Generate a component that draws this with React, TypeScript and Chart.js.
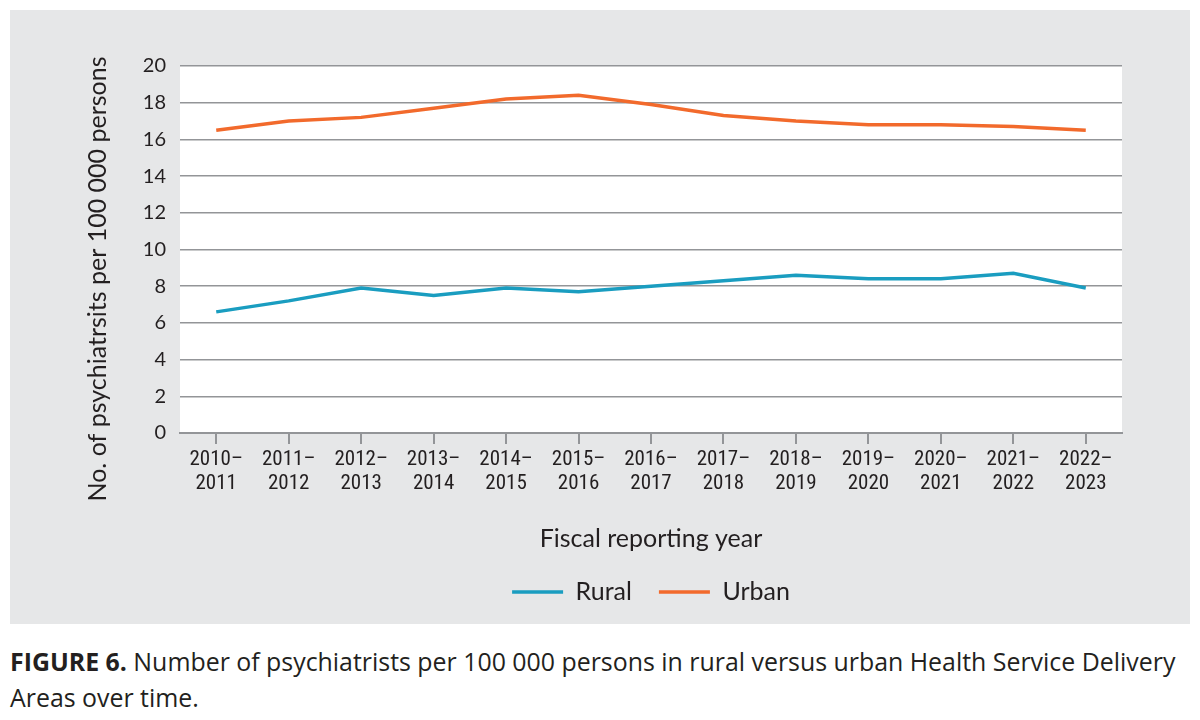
import React, { useEffect, useRef } from 'react';
import { Chart, registerables } from 'chart.js';

Chart.register(...registerables);

const CATEGORIES: string[][] = [
  ['2010–', '2011'],
  ['2011–', '2012'],
  ['2012–', '2013'],
  ['2013–', '2014'],
  ['2014–', '2015'],
  ['2015–', '2016'],
  ['2016–', '2017'],
  ['2017–', '2018'],
  ['2018–', '2019'],
  ['2019–', '2020'],
  ['2020–', '2021'],
  ['2021–', '2022'],
  ['2022–', '2023'],
];

const RURAL = [6.6, 7.2, 7.9, 7.5, 7.9, 7.7, 8.0, 8.3, 8.6, 8.4, 8.4, 8.7, 7.9];
const URBAN = [16.5, 17.0, 17.2, 17.7, 18.2, 18.4, 17.9, 17.3, 17.0, 16.8, 16.8, 16.7, 16.5];

const Y_MIN = 0;
const Y_MAX = 20;
const Y_STEP = 2;

const Y_TITLE = 'No. of psychiatrsits per 100 000 persons';
const X_TITLE = 'Fiscal reporting year';
const SERIES_NAMES = ['Rural', 'Urban'];

const RURAL_COLOR = '#1a9dc0';
const URBAN_COLOR = '#f26a2c';
const GRID_COLOR = '#939598';
const TEXT_COLOR = '#231f20';
const PANEL_BG = '#e6e7e8';

const FONT = 'Lato, "Noto Sans", sans-serif';
const NARROW = '"Liberation Sans Narrow", "Roboto Condensed", Roboto, sans-serif';
const CAPTION_FONT = '"Open Sans", "Noto Sans", sans-serif';

const bgPlugin = {
  id: 'plotBg',
  beforeDraw(chart: any) {
    const { ctx, chartArea } = chart;
    ctx.save();
    ctx.fillStyle = '#ffffff';
    ctx.fillRect(chartArea.left, chartArea.top, chartArea.right - chartArea.left, chartArea.bottom - chartArea.top);
    ctx.restore();
  },
};

const yTitlePlugin = {
  id: 'yTitleCustom',
  afterDraw(chart: any) {
    const { ctx, chartArea } = chart;
    ctx.save();
    ctx.translate(chartArea.left - 74, (chartArea.top + chartArea.bottom) / 2 + 29.5);
    ctx.rotate(-Math.PI / 2);
    ctx.font = `25px ${FONT}`;
    ctx.fillStyle = TEXT_COLOR;
    ctx.textAlign = 'center';
    ctx.textBaseline = 'alphabetic';
    ctx.fillText(Y_TITLE, 0, 0);
    ctx.restore();
  },
};

function LineChart() {
  const ref = useRef<HTMLCanvasElement | null>(null);
  useEffect(() => {
    if (!ref.current) return;
    const chart = new Chart(ref.current, {
      type: 'line',
      data: {
        labels: CATEGORIES,
        datasets: [
          {
            label: SERIES_NAMES[0],
            data: RURAL,
            borderColor: RURAL_COLOR,
            backgroundColor: RURAL_COLOR,
            borderWidth: 3.5,
            pointRadius: 0,
            tension: 0,
          },
          {
            label: SERIES_NAMES[1],
            data: URBAN,
            borderColor: URBAN_COLOR,
            backgroundColor: URBAN_COLOR,
            borderWidth: 3.5,
            pointRadius: 0,
            tension: 0,
          },
        ],
      },
      options: {
        animation: false,
        responsive: true,
        maintainAspectRatio: false,
        layout: { padding: { left: 0, top: 56, right: 68, bottom: 9.5 } },
        scales: {
          x: {
            offset: true,
            grid: {
              display: true,
              drawOnChartArea: false,
              drawTicks: true,
              tickLength: 11,
              color: GRID_COLOR,
              lineWidth: 2,
            },
            border: { display: true, color: GRID_COLOR, width: 2 },
            ticks: {
              font: { family: NARROW, size: 21, lineHeight: 1.12 },
              color: TEXT_COLOR,
              padding: 4,
              maxRotation: 0,
              autoSkip: false,
            },
            title: {
              display: true,
              text: X_TITLE,
              font: { family: FONT, size: 25 },
              color: TEXT_COLOR,
              padding: { top: 0, bottom: -1.5 },
            },
            afterFit: (s: any) => {
              s.height = 119.5;
            },
          },
          y: {
            min: Y_MIN,
            max: Y_MAX,
            ticks: {
              stepSize: Y_STEP,
              font: { family: FONT, size: 20 },
              color: TEXT_COLOR,
              padding: 14,
            },
            grid: { color: GRID_COLOR, lineWidth: 1.5, drawTicks: false },
            border: { display: false },
            afterFit: (s: any) => {
              s.width = 170;
            },
          },
        },
        plugins: {
          legend: {
            position: 'bottom',
            fullSize: false,
            labels: {
              boxWidth: 51,
              boxHeight: 0,
              padding: 27,
              font: { family: FONT, size: 25 },
              color: TEXT_COLOR,
            },
          },
          tooltip: { enabled: false },
        },
      },
      plugins: [bgPlugin, yTitlePlugin],
    } as any);
    return () => chart.destroy();
  }, []);
  return <canvas ref={ref} />;
}

export default function App() {
  return (
    <div style={{ position: 'absolute', left: 0, top: 0, width: 1200, height: 720, background: '#ffffff' }}>
      <div style={{ position: 'absolute', left: 10, top: 10, width: 1180, height: 614, background: PANEL_BG }}>
        <LineChart />
      </div>
      <div
        style={{
          position: 'absolute',
          left: 10,
          top: 643,
          fontFamily: CAPTION_FONT,
          fontSize: 24.9,
          fontWeight: 500,
          lineHeight: '36px',
          color: TEXT_COLOR,
          whiteSpace: 'nowrap',
        }}
      >
        <span style={{ fontWeight: 700 }}>FIGURE 6.</span> Number of psychiatrists per 100 000 persons in rural versus urban Health Service Delivery
        <br />
        Areas over time.
      </div>
    </div>
  );
}
